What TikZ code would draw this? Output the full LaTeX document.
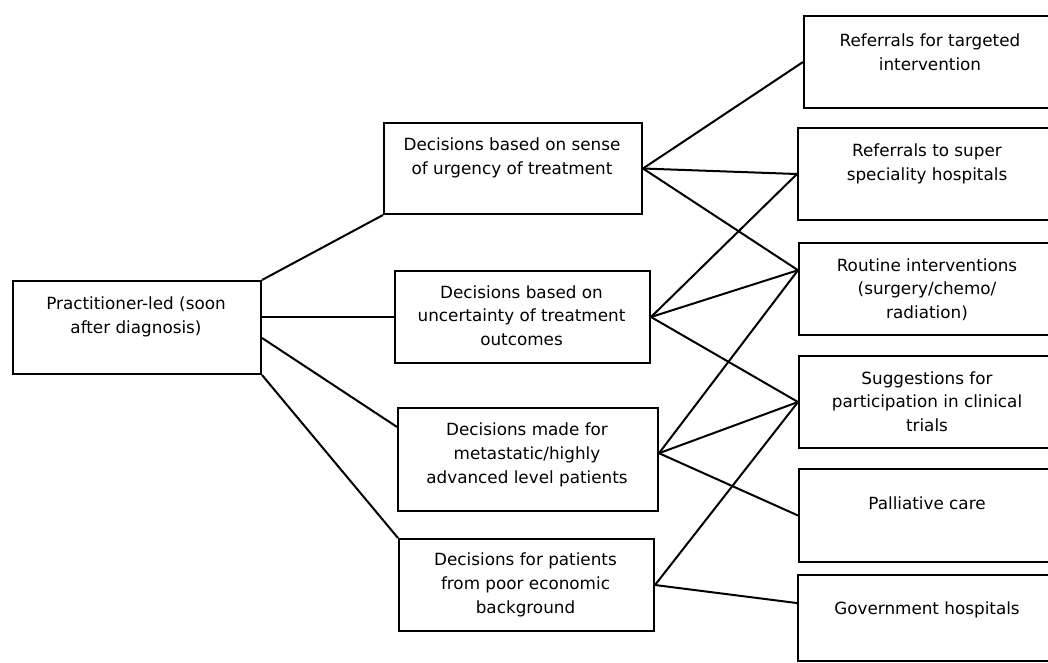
\documentclass[tikz,border=0pt]{standalone}
\usepackage{fontspec}
\setmainfont{DejaVu Sans}
\usetikzlibrary{calc}
\begin{document}
\begin{tikzpicture}[x=0.75pt,y=-0.75pt,
  box/.style={draw=black,line width=1.5pt,rectangle,anchor=north west,inner sep=0pt},
  txt/.style={align=center,inner sep=0pt,font=\fontsize{12.6pt}{17.8pt}\selectfont},
  conn/.style={draw=black,line width=1.5pt}]
\useasboundingbox (0,0) rectangle (1048,662);
\clip (0,0) rectangle (1048,662);
% boxes
\node[box,minimum width=186pt,minimum height=69.75pt] (L) at (12,280) {};
\node[box,minimum width=193.5pt,minimum height=68.25pt] (U1) at (383,122) {};
\node[box,minimum width=191.25pt,minimum height=69pt] (U2) at (394,270) {};
\node[box,minimum width=195pt,minimum height=77.25pt] (M) at (397,407) {};
\node[box,minimum width=191.25pt,minimum height=69pt] (P) at (398,538) {};
\node[box,minimum width=190.5pt,minimum height=69pt] (R1) at (803,15) {};
\node[box,minimum width=195pt,minimum height=69pt] (R2) at (797,127) {};
\node[box,minimum width=194.25pt,minimum height=69pt] (R3) at (798,242) {};
\node[box,minimum width=194.25pt,minimum height=69pt] (R4) at (798,355) {};
\node[box,minimum width=194.25pt,minimum height=69.75pt] (R5) at (798,468) {};
\node[box,minimum width=195pt,minimum height=64.5pt] (R6) at (797,574) {};
% texts
\node[txt] (tL) at (136,316.5) {Practitioner-led (soon\\after diagnosis)};
\node[txt] (tU1) at (512,157.5) {Decisions based on sense\\of urgency of treatment};
\node[txt] (tU2) at (521.5,315.5) {Decisions based on\\uncertainty of treatment\\outcomes};
\node[txt] (tM) at (527,455) {Decisions made for\\metastatic/highly\\advanced level patients};
\node[txt] (tP) at (525.5,585) {Decisions for patients\\from poor economic\\background};
\node[txt] (tR1) at (930,52.5) {Referrals for targeted\\intervention};
\node[txt] (tR2) at (927,163.5) {Referrals to super\\speciality hospitals};
\node[txt] (tR3) at (927,289.5) {Routine interventions\\(surgery/chemo/\\radiation)};
\node[txt] (tR4) at (927,401.5) {Suggestions for\\participation in clinical\\trials};
\node[txt] (tR5) at (927,503) {Palliative care};
\node[txt] (tR6) at (927,610) {Government hospitals};
% connection points
\coordinate (lm) at ($(L.north east)!0.61!(L.south east)$);
\coordinate (mIn) at ($(M.north west)!0.19!(M.south west)$);
\coordinate (mOut) at ($(M.north east)!0.44!(M.south east)$);
\coordinate (r3in) at ($(R3.north west)!0.30!(R3.south west)$);
\coordinate (r6in) at ($(R6.north west)!0.33!(R6.south west)$);
% connectors
\draw[conn] (L.north east) -- (U1.south west);
\draw[conn] (L.east |- U2.west) -- (U2.west);
\draw[conn] (lm) -- (mIn);
\draw[conn] (L.south east) -- (P.north west);
\draw[conn] (U1.east) -- (R1.west);
\draw[conn] (U1.east) -- (R2.west);
\draw[conn] (U1.east) -- (r3in);
\draw[conn] (U2.east) -- (R2.west);
\draw[conn] (U2.east) -- (r3in);
\draw[conn] (U2.east) -- (R4.west);
\draw[conn] (mOut) -- (r3in);
\draw[conn] (mOut) -- (R4.west);
\draw[conn] (mOut) -- (R5.west);
\draw[conn] (P.east) -- (R4.west);
\draw[conn] (P.east) -- (r6in);
\end{tikzpicture}
\end{document}
